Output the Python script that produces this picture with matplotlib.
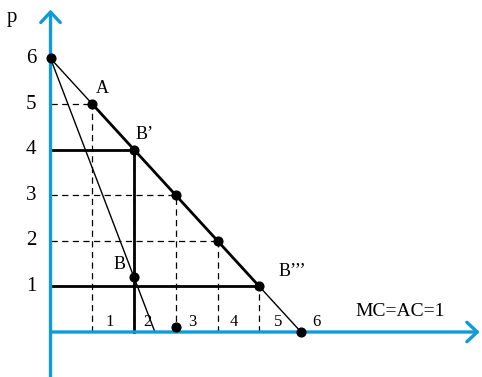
import matplotlib
matplotlib.use("Agg")
import matplotlib.pyplot as plt

plt.rcParams['font.family'] = ['Liberation Serif', 'DejaVu Serif']

# demand curve points (q, p)
demand_q = [0, 1, 2, 3, 4, 5, 6]
demand_p = [6, 5, 4, 3, 2, 1, 0]

# steeper curve
steep_q = [0, 2.5]
steep_p = [6, 0]

point_B = (2, 1.2)
dot_axis = (3, 0.1)

y_ticks = [1, 2, 3, 4, 5, 6]
x_interval_labels = ['1', '2', '3', '4', '5', '6']
x_interval_pos = [1.42, 2.33, 3.4, 4.4, 5.45, 6.36]

point_labels = {
    'A': (1, 5),
    'B\u2019': (2, 4),
    'B\u2019\u2019\u2019': (5, 1),
}
label_offsets = {
    'A': (10, 16),
    'B\u2019': (11, 15),
    'B\u2019\u2019\u2019': (33, 15),
}

blue = '#0f9ad9'

fig = plt.figure(figsize=(4.82, 3.77), dpi=100)
ax = fig.add_axes([0, 0, 1, 1])
ax.set_xlim(-1.21, 10.335)
ax.set_ylim(-0.987, 7.281)
ax.axis('off')

# dashed guide lines
for q, p in zip(demand_q[1:5], demand_p[1:5]):
    if q != 2:
        ax.plot([0, q], [p, p], color='black', lw=0.9, ls=(0, (5, 3.5)))
    ax.plot([q, q], [0, p], color='black', lw=0.9, ls=(0, (5, 3.5)))
ax.plot([5, 5], [0, 1], color='black', lw=0.9, ls=(0, (5, 3.5)))

# thin parts of the demand line and the steep line
ax.plot(demand_q[:2], demand_p[:2], color='black', lw=1.0)
ax.plot(demand_q[5:], demand_p[5:], color='black', lw=1.0)
ax.plot(steep_q, steep_p, color='black', lw=1.0)

# thick parts
ax.plot(demand_q[1:6], demand_p[1:6], color='black', lw=2.0)
ax.plot([0, 2], [4, 4], color='black', lw=2.0)
ax.plot([2, 2], [0, 4], color='black', lw=2.0)
ax.plot([0, 5], [1, 1], color='black', lw=2.0)

# axes with arrows
arrow = dict(arrowstyle='->,head_length=0.75,head_width=0.7', lw=2.4,
             color=blue, shrinkA=0, shrinkB=0)
ax.annotate('', xy=(0, 7.07), xytext=(0, -0.99), arrowprops=arrow)
ax.annotate('', xy=(10.28, 0), xytext=(0, 0), arrowprops=arrow)

# dots
ax.plot(demand_q, demand_p, 'o', color='black', ms=6.3, zorder=5)
ax.plot(*point_B, 'o', color='black', ms=6.3, zorder=5)
ax.plot(*dot_axis, 'o', color='black', ms=6.3, zorder=5)

# texts
for yt in y_ticks:
    ax.text(-0.47, yt, str(yt), fontsize=15, ha='center', va='center')
ax.text(-0.92, 6.9, 'p', fontsize=15, ha='center', va='center')

for lab, pt in point_labels.items():
    ax.annotate(lab, xy=pt, xytext=label_offsets[lab], textcoords='offset pixels',
                fontsize=13, ha='center', va='center')
ax.annotate('B', xy=point_B, xytext=(-15, 13), textcoords='offset pixels',
            fontsize=13, ha='center', va='center')

for lab, xp in zip(x_interval_labels, x_interval_pos):
    ax.text(xp, 0.22, lab, fontsize=12, ha='center', va='center')

ax.text(8.37, 0.44, 'MC=AC=1', fontsize=14, ha='center', va='center')

fig.savefig('out.png', dpi=100)
